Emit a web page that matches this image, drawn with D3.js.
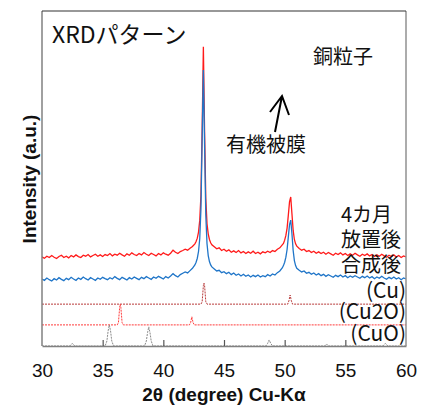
<!DOCTYPE html>
<html><head><meta charset="utf-8">
<script src="https://cdn.jsdelivr.net/npm/d3@7"></script>
<style>body{margin:0;background:#fff}svg{display:block}</style>
</head><body>
<script>
// ---- data (intensity in arbitrary units) ----
const xTicks = [30, 35, 40, 45, 50, 55, 60];
const xLabel = "2θ (degree) Cu-Kα";
const yLabel = "Intensity (a.u.)";
const title = "XRDパターン";
// 4カ月放置後 (red)
const agedPattern = [
[30.0,266],[30.2,262],[30.4,268],[30.6,264],[30.8,270],[31.0,265],[31.2,261],[31.4,267],[31.6,271],[31.8,264],
[32.0,268],[32.2,263],[32.4,270],[32.6,266],[32.8,272],[33.0,267],[33.2,264],[33.4,271],[33.6,268],[33.8,273],
[34.0,266],[34.2,270],[34.4,274],[34.6,268],[34.8,272],[35.0,267],[35.2,273],[35.4,270],[35.6,276],[35.8,269],
[36.0,274],[36.2,271],[36.4,277],[36.6,272],[36.8,268],[37.0,275],[37.2,271],[37.4,278],[37.6,273],[37.8,270],
[38.0,276],[38.2,272],[38.4,279],[38.6,274],[38.8,270],[39.0,277],[39.2,273],[39.4,269],[39.6,276],[39.8,272],
[40.0,278],[40.2,274],[40.4,271],[40.6,277],[40.8,286],[41.0,280],[41.2,276],[41.4,282],[41.6,285],[41.8,289],
[42.0,286],[42.2,292],[42.4,297],[42.6,305],
[42.7,312],[42.8,322],[42.9,340],[43.0,375],[43.1,450],[43.2,650],[43.3,893],[43.4,640],[43.5,440],[43.6,365],
[43.7,335],[43.8,318],[43.9,308],[44.0,302],
[44.2,296],[44.4,290],[44.6,293],[44.8,285],[45.0,289],[45.2,283],[45.4,287],[45.6,280],[45.8,284],[46.0,279],
[46.2,285],[46.4,278],[46.6,282],[46.8,276],[47.0,281],[47.2,277],[47.4,283],[47.6,276],[47.8,280],[48.0,275],
[48.2,281],[48.4,278],[48.6,283],[48.8,279],[49.0,285],[49.2,282],[49.4,289],[49.6,293],[49.8,302],
[49.9,306],[50.0,316],[50.1,330],[50.2,352],[50.3,390],[50.4,430],[50.5,445],[50.6,395],[50.7,345],[50.8,318],
[50.9,305],[51.0,298],
[51.2,291],[51.4,286],[51.6,289],[51.8,282],[52.0,285],[52.2,279],[52.4,283],[52.6,277],[52.8,281],[53.0,276],
[53.2,280],[53.4,274],[53.6,279],[53.8,275],[54.0,271],[54.2,277],[54.4,273],[54.6,278],[54.8,272],[55.0,276],
[55.2,270],[55.4,275],[55.6,271],[55.8,277],[56.0,272],[56.2,268],[56.4,274],[56.6,270],[56.8,275],[57.0,269],
[57.2,273],[57.4,267],[57.6,272],[57.8,268],[58.0,274],[58.2,269],[58.4,265],[58.6,271],[58.8,267],[59.0,272],
[59.2,266],[59.4,270],[59.6,264],[59.8,269],[60.0,266]
];
// 合成後 (blue)
const freshPattern = [
[30.0,200],[30.2,196],[30.4,203],[30.6,198],[30.8,194],[31.0,201],[31.2,197],[31.4,204],[31.6,199],[31.8,195],
[32.0,202],[32.2,198],[32.4,205],[32.6,200],[32.8,196],[33.0,203],[33.2,199],[33.4,206],[33.6,201],[33.8,197],
[34.0,204],[34.2,200],[34.4,196],[34.6,203],[34.8,199],[35.0,205],[35.2,201],[35.4,198],[35.6,204],[35.8,200],
[36.0,207],[36.2,202],[36.4,198],[36.6,205],[36.8,201],[37.0,197],[37.2,204],[37.4,200],[37.6,206],[37.8,202],
[38.0,198],[38.2,205],[38.4,201],[38.6,207],[38.8,203],[39.0,199],[39.2,206],[39.4,202],[39.6,208],[39.8,204],
[40.0,200],[40.2,207],[40.4,203],[40.6,209],[40.8,216],[41.0,210],[41.2,206],[41.4,213],[41.6,217],[41.8,221],
[42.0,218],[42.2,225],[42.4,232],[42.6,242],
[42.7,250],[42.8,262],[42.9,282],[43.0,320],[43.1,410],[43.2,620],[43.3,824],[43.4,600],[43.5,390],[43.6,305],
[43.7,270],[43.8,252],[43.9,242],[44.0,236],
[44.2,230],[44.4,224],[44.6,226],[44.8,219],[45.0,222],[45.2,216],[45.4,220],[45.6,213],[45.8,218],[46.0,211],
[46.2,215],[46.4,209],[46.6,214],[46.8,208],[47.0,212],[47.2,206],[47.4,211],[47.6,207],[47.8,212],[48.0,206],
[48.2,210],[48.4,207],[48.6,213],[48.8,209],[49.0,215],[49.2,212],[49.4,219],[49.6,224],[49.8,233],
[49.9,240],[50.0,250],[50.1,265],[50.2,288],[50.3,325],[50.4,362],[50.5,376],[50.6,335],[50.7,285],[50.8,255],
[50.9,240],[51.0,232],
[51.2,226],[51.4,221],[51.6,224],[51.8,217],[52.0,220],[52.2,214],[52.4,218],[52.6,212],[52.8,216],[53.0,210],
[53.2,214],[53.4,208],[53.6,213],[53.8,209],[54.0,205],[54.2,211],[54.4,207],[54.6,212],[54.8,206],[55.0,210],
[55.2,204],[55.4,209],[55.6,205],[55.8,210],[56.0,206],[56.2,202],[56.4,208],[56.6,204],[56.8,209],[57.0,203],
[57.2,207],[57.4,201],[57.6,206],[57.8,202],[58.0,208],[58.2,203],[58.4,199],[58.6,205],[58.8,201],[59.0,206],
[59.2,200],[59.4,204],[59.6,198],[59.8,203],[60.0,200]
];
// reference patterns
const cuRef = [[30,125],[43.1,125],[43.2,132],[43.3,180],[43.35,188],[43.4,180],[43.5,132],[43.6,125],
  [50.25,125],[50.35,135],[50.45,152],[50.55,135],[50.65,125],[60,125]];
const cu2oRef = [[30,63],[36.2,63],[36.3,70],[36.4,115],[36.45,125],[36.5,115],[36.6,70],[36.7,63],
  [42.15,63],[42.25,70],[42.35,87],[42.45,70],[42.55,63],[60,63]];
const cuoRef = [[30,0],[32.3,0],[32.5,8],[32.7,0],[35.2,0],[35.35,15],[35.45,45],[35.55,63],[35.65,45],[35.75,15],[35.9,0],
  [38.45,0],[38.6,15],[38.7,40],[38.8,57],[38.9,40],[39.0,15],[39.15,0],[48.45,0],[48.6,8],[48.72,18],[48.85,8],[49.0,0],
  [53.3,0],[53.45,6],[53.6,0],[58.1,0],[58.3,8],[58.5,0],[60,0]];
const seriesLabels = ["4カ月", "放置後", "合成後"];
const refLabels = ["(Cu)", "(Cu2O)", "(CuO)"];

// ---- layout ----
const W = 421, H = 409;
const L = 42, R = 406, T = 11, B = 346;
const svg = d3.select("body").append("svg").attr("width", W).attr("height", H);
const x = d3.scaleLinear().domain([30, 60]).range([L, R]);
const y = d3.scaleLinear().domain([0, 1000]).range([B, T]);
const line = d3.line().x(d => x(d[0])).y(d => y(d[1]));

svg.append("clipPath").attr("id", "clip").append("rect")
  .attr("x", L).attr("y", T).attr("width", R - L).attr("height", B - T);
const g = svg.append("g").attr("clip-path", "url(#clip)");

g.append("path").datum(agedPattern).attr("d", line).attr("fill", "none")
  .attr("stroke", "#ff1a1a").attr("stroke-width", 1.3);
g.append("path").datum(freshPattern).attr("d", line).attr("fill", "none")
  .attr("stroke", "#1f75c8").attr("stroke-width", 1.3);
g.append("path").datum(cuRef).attr("d", line).attr("fill", "none")
  .attr("stroke", "#b83a3a").attr("stroke-width", 1).attr("stroke-dasharray", "2,1");
g.append("path").datum(cu2oRef).attr("d", line).attr("fill", "none")
  .attr("stroke", "#ff3b3b").attr("stroke-width", 1).attr("stroke-dasharray", "2,1");
g.append("path").datum(cuoRef).attr("d", line).attr("fill", "none")
  .attr("stroke", "#8a8a8a").attr("stroke-width", 1).attr("stroke-dasharray", "2,1");

// frame
svg.append("line").attr("x1", L).attr("x2", L).attr("y1", T).attr("y2", B).attr("stroke", "#808080").attr("stroke-width", 1.5);
svg.append("line").attr("x1", R).attr("x2", R).attr("y1", T).attr("y2", B).attr("stroke", "#909090").attr("stroke-width", 1.5);
svg.append("line").attr("x1", L).attr("x2", R).attr("y1", T).attr("y2", T).attr("stroke", "#333").attr("stroke-width", 1.2);

// x axis
const xAxis = svg.append("g").attr("transform", `translate(0,${B})`)
  .call(d3.axisBottom(x).tickValues(xTicks).tickSize(-6).tickPadding(18).tickSizeOuter(0).tickFormat(d3.format("d")));
xAxis.select(".domain").attr("stroke", "#808080").attr("stroke-width", 1.5);
xAxis.selectAll(".tick line").attr("stroke", "#555").attr("stroke-width", 1.2)
  .attr("display", d => (d === 30 || d === 60) ? "none" : null);
xAxis.selectAll(".tick text").attr("font-family", "'Liberation Sans', Arial, sans-serif")
  .attr("font-size", 19).attr("fill", "#111");

svg.append("text").attr("x", (L + R) / 2).attr("y", 401).attr("text-anchor", "middle")
  .attr("font-family", "'Liberation Sans', Arial, sans-serif").attr("font-weight", "bold")
  .attr("font-size", 19).attr("fill", "#111").text(xLabel);
svg.append("text").attr("transform", "translate(36,179) rotate(-90)").attr("text-anchor", "middle")
  .attr("font-family", "'Liberation Sans', Arial, sans-serif").attr("font-weight", "bold")
  .attr("font-size", 19).attr("fill", "#111").text(yLabel);

const jp = "'Noto Sans CJK JP', 'Noto Sans', sans-serif";
svg.append("text").attr("x", 52).attr("y", 43).attr("font-family", jp).attr("font-size", 23).attr("fill", "#111").text(title);
svg.append("text").attr("x", 313).attr("y", 64).attr("font-family", jp).attr("font-size", 20).attr("fill", "#111").text("銅粒子");
svg.append("text").attr("x", 226).attr("y", 152).attr("font-family", jp).attr("font-size", 20).attr("fill", "#111").text("有機被膜");
// arrow
svg.append("path").attr("d", "M275,132 L282,96 M270,112 L282,96 L289,115")
  .attr("fill", "none").attr("stroke", "#000").attr("stroke-width", 2).attr("stroke-linejoin", "miter");

const slY = [215, 240, 265];
seriesLabels.forEach((t, i) => svg.append("text").attr("x", 341).attr("y", slY[i]).attr("dy", "0.35em")
  .attr("font-family", jp).attr("font-size", 20).attr("fill", "#111").text(t));
const rlY = [291, 312, 334];
refLabels.forEach((t, i) => svg.append("text").attr("x", 406).attr("y", rlY[i]).attr("dy", "0.35em")
  .attr("text-anchor", "end").attr("font-family", jp).attr("font-size", 21).attr("fill", "#111").text(t));
</script>
</body></html>
